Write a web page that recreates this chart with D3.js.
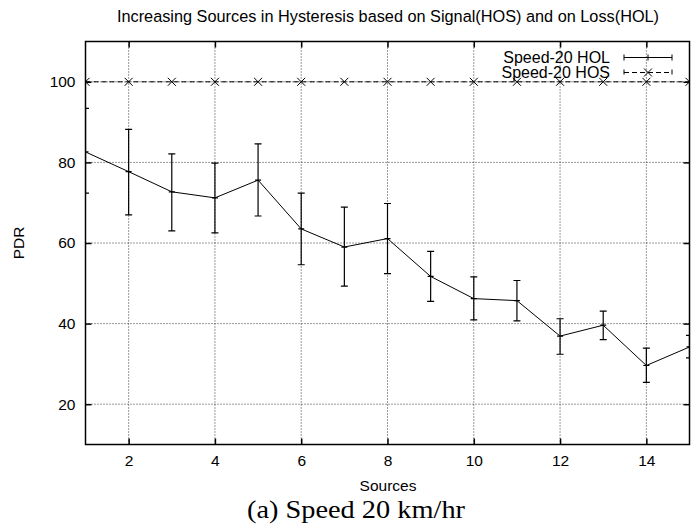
<!DOCTYPE html>
<html><head><meta charset="utf-8">
<script src="https://cdn.jsdelivr.net/npm/d3@7"></script>
<style>body{margin:0;background:#fff}svg{display:block}</style>
</head><body>
<svg id="c" width="691" height="527"></svg>
<script>
const sources = [1,2,3,4,5,6,7,8,9,10,11,12,13,14,15];
const holMean = [82.6,77.7,72.7,71.2,75.6,63.5,59.0,61.1,51.7,46.2,45.7,36.9,39.6,29.6,34.2];
const holLow  = [72.4,67.0,63.0,62.5,66.7,54.6,49.3,52.4,45.5,40.9,40.7,32.4,36.0,25.4,31.5];
const holHigh = [93.4,88.2,82.1,79.8,84.6,72.4,68.9,69.8,57.9,51.6,50.7,41.2,43.1,33.9,37.1];
const hosVals = [100,100,100,100,100,100,100,100,100,100,100,100,100,100,100];
const xTicks = [2,4,6,8,10,12,14];
const yTicks = [20,40,60,80,100];
const seriesNames = ["Speed-20 HOL","Speed-20 HOS"];
const titleText = "Increasing Sources in Hysteresis based on Signal(HOS) and on Loss(HOL)";
const xLabel = "Sources", yLabel = "PDR", caption = "(a) Speed 20 km/hr";

const svg = d3.select("#c");
const L=85.5, R=689.5, T=41.5, B=444.5;
const x = d3.scaleLinear().domain([1,15]).range([L,R]);
const y = d3.scaleLinear().domain([10,110]).range([B,T]);
const font = "Liberation Sans, Arial, sans-serif";

// grid
const g = svg.append("g");
g.selectAll(".gx").data(xTicks).join("line")
  .attr("x1",d=>x(d)).attr("x2",d=>x(d)).attr("y1",T).attr("y2",B)
  .attr("stroke","#000").attr("stroke-width",0.8).attr("stroke-dasharray","1,2");
g.selectAll(".gy").data(yTicks).join("line")
  .attr("y1",d=>y(d)).attr("y2",d=>y(d)).attr("x1",L).attr("x2",R)
  .attr("stroke","#000").attr("stroke-width",0.8).attr("stroke-dasharray","1,2");

// axes via d3 axis (inward ticks), mirrored
const ax = (a)=>a.tickSizeOuter(0).tickSizeInner(-6).tickPadding(10);
svg.append("g").attr("transform",`translate(0,${B})`)
  .call(ax(d3.axisBottom(x).tickValues(xTicks).tickFormat(d3.format("d"))));
svg.append("g").attr("transform",`translate(${L},0)`)
  .call(ax(d3.axisLeft(y).tickValues(yTicks).tickFormat(d3.format("d"))));
svg.append("g").attr("transform",`translate(0,${T})`)
  .call(d3.axisTop(x).tickValues(xTicks).tickSizeOuter(0).tickSizeInner(-6).tickFormat(""));
svg.append("g").attr("transform",`translate(${R},0)`)
  .call(d3.axisRight(y).tickValues(yTicks).tickSizeOuter(0).tickSizeInner(-6).tickFormat(""));
svg.selectAll(".domain").remove();
svg.selectAll(".tick line").attr("stroke","#000").attr("stroke-width",1.5);
svg.selectAll(".tick text").attr("font-family",font).attr("font-size",15.5).attr("fill","#000");

// clip
svg.append("clipPath").attr("id","clip").append("rect")
  .attr("x",L).attr("y",T).attr("width",R-L).attr("height",B-T);
const p = svg.append("g").attr("clip-path","url(#clip)");

// HOS dashed line with x markers
const hos = sources.map((s,i)=>({s,v:hosVals[i]}));
p.append("path").datum(hos)
  .attr("d",d3.line().x(d=>x(d.s)).y(d=>y(d.v)))
  .attr("fill","none").attr("stroke","#000").attr("stroke-width",1).attr("stroke-dasharray","5,3");
const xm = 4;
p.selectAll(".xm").data(hos).join("path")
  .attr("d",d=>`M${x(d.s)-xm},${y(d.v)-xm}L${x(d.s)+xm},${y(d.v)+xm}M${x(d.s)-xm},${y(d.v)+xm}L${x(d.s)+xm},${y(d.v)-xm}`)
  .attr("stroke","#000").attr("stroke-width",1);

// HOL
const hol = sources.map((s,i)=>({s,m:holMean[i],lo:holLow[i],hi:holHigh[i]}));
p.append("path").datum(hol)
  .attr("d",d3.line().x(d=>x(d.s)).y(d=>y(d.m)))
  .attr("fill","none").attr("stroke","#000").attr("stroke-width",1);
const cw=3.5;
p.selectAll(".eb").data(hol).join("path")
  .attr("d",d=>`M${x(d.s)},${y(d.lo)}V${y(d.hi)}M${x(d.s)-cw},${y(d.lo)}H${x(d.s)+cw}M${x(d.s)-cw},${y(d.hi)}H${x(d.s)+cw}M${x(d.s)-3},${y(d.m)}H${x(d.s)+3}`)
  .attr("fill","none").attr("stroke","#000").attr("stroke-width",1.2);

// frame
svg.append("rect").attr("x",L).attr("y",T).attr("width",R-L).attr("height",B-T)
  .attr("fill","none").attr("stroke","#000").attr("stroke-width",1.5);

// legend
const ly1=57.5, ly2=72.5, lx0=624, lx1=672, lxm=648;
svg.append("text").attr("x",610).attr("y",ly1).attr("dy","0.35em").attr("text-anchor","end")
  .attr("font-family",font).attr("font-size",16).text(seriesNames[0]);
svg.append("text").attr("x",610).attr("y",ly2).attr("dy","0.35em").attr("text-anchor","end")
  .attr("font-family",font).attr("font-size",16).text(seriesNames[1]);
svg.append("path").attr("d",`M${lx0},${ly1}H${lx1}M${lx0},${ly1-3}V${ly1+3}M${lx1},${ly1-3}V${ly1+3}M${lxm},${ly1-3}V${ly1+3}`)
  .attr("stroke","#000").attr("stroke-width",1).attr("fill","none");
svg.append("path").attr("d",`M${lx0},${ly2}H${lx1}M${lx0},${ly2-3}V${ly2+3}M${lx1},${ly2-3}V${ly2+3}`)
  .attr("stroke","#000").attr("stroke-width",1).attr("stroke-dasharray","5,3").attr("fill","none");
svg.append("path").attr("d",`M${lxm-xm},${ly2-xm}L${lxm+xm},${ly2+xm}M${lxm-xm},${ly2+xm}L${lxm+xm},${ly2-xm}`)
  .attr("stroke","#000").attr("stroke-width",1);

// titles
svg.append("text").attr("x",388).attr("y",21.5).attr("text-anchor","middle")
  .attr("font-family",font).attr("font-size",16.3).text(titleText);
svg.append("text").attr("x",388).attr("y",491).attr("text-anchor","middle")
  .attr("font-family",font).attr("font-size",15.5).text(xLabel);
svg.append("text").attr("transform","translate(24,243) rotate(-90)").attr("text-anchor","middle")
  .attr("font-family",font).attr("font-size",15.5).text(yLabel);
svg.append("text").attr("x",356).attr("y",518).attr("text-anchor","middle")
  .attr("textLength",218).attr("lengthAdjust","spacingAndGlyphs")
  .attr("font-family","Liberation Serif, DejaVu Serif, serif").attr("font-size",26).text(caption);
</script>
</body></html>
